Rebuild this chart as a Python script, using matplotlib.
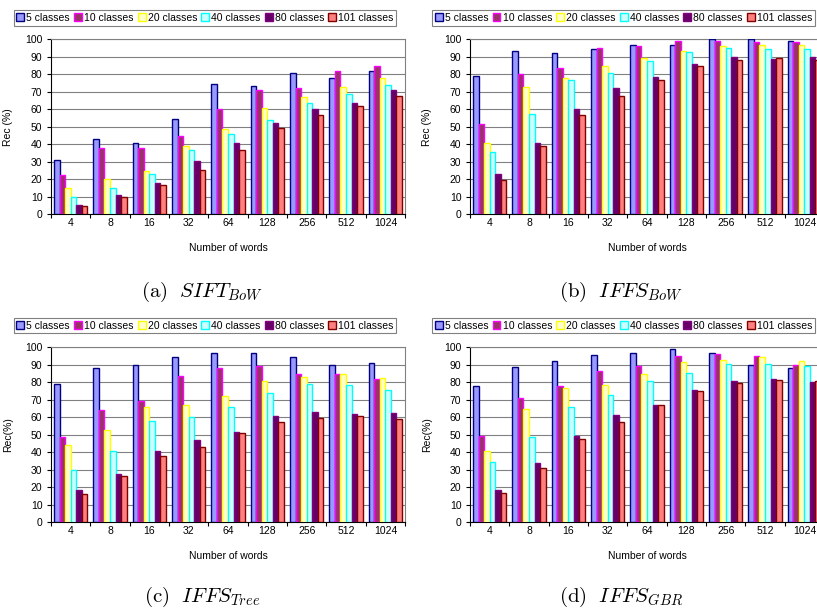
import matplotlib.pyplot as plt
from matplotlib.patches import Patch
import numpy as np

plt.rcParams['font.family'] = ['Liberation Sans', 'DejaVu Sans']
plt.rcParams['mathtext.fontset'] = 'cm'

words = ["4", "8", "16", "32", "64", "128", "256", "512", "1024"]
classes = ["5 classes", "10 classes", "20 classes", "40 classes", "80 classes", "101 classes"]

# Rec (%) per numero di classi (righe) e numero di parole (colonne)
sift_bow = [
    [31, 43, 41, 54.5, 74.5, 73.5, 81, 78, 82],
    [22.5, 38, 38, 45, 60, 71, 72, 82, 85],
    [15, 20, 25, 39, 49, 60.5, 67, 73, 78],
    [10, 15, 23, 37, 46, 54, 63.5, 69, 74],
    [5.5, 11, 18, 30.5, 40.5, 52, 60, 63.5, 71],
    [4.5, 10, 16.5, 25.5, 37, 49.5, 56.5, 62, 67.5],
]
iffs_bow = [
    [79, 93.5, 92, 94.5, 96.5, 96.5, 100, 100, 99],
    [51.5, 80, 83.5, 95, 96, 99, 99, 98.5, 98.5],
    [41, 73, 78, 85, 89.5, 93.5, 96, 96.5, 97],
    [35.5, 57.5, 76.5, 81, 87.5, 93, 95, 94.5, 94.5],
    [23, 41, 60, 72, 78.5, 86, 90, 89, 90],
    [19.5, 39, 57, 67.5, 77, 85, 88, 89.5, 88],
]
iffs_tree = [
    [79, 88, 90, 94.5, 96.5, 96.5, 94.5, 90, 91],
    [49, 64, 69.5, 83.5, 88, 89.5, 85, 84.5, 82],
    [44, 53, 66, 67, 72, 80.5, 83, 85, 82.5],
    [30, 41, 58, 60, 66, 74, 79, 78.5, 75.5],
    [18.5, 27.5, 41, 47, 51.5, 61, 63, 62, 62.5],
    [16, 26.5, 38, 43, 51, 57.5, 59.5, 60.5, 59],
]
iffs_gbr = [
    [78, 89, 92, 95.5, 96.5, 99, 96.5, 90, 88],
    [49.5, 71, 78, 86.5, 89.5, 95, 96, 95, 90],
    [41, 65, 77, 78.5, 84.5, 91.5, 92.5, 94.5, 92],
    [34.5, 49, 66, 72.5, 81, 85.5, 90.5, 90.5, 89.5],
    [18.5, 34, 49.5, 61.5, 67, 75.5, 80.5, 82, 80],
    [16.5, 31, 47.5, 57.5, 67, 75, 79.5, 81.5, 80.5],
]

fills = ['#9999FF', '#993366', '#FFFFCC', '#CCFFFF', '#660066', '#FF8080']
edges = ['#000080', '#FF00FF', '#FFFF00', '#00FFFF', '#800080', '#800000']

W, H = 817, 608
fig = plt.figure(figsize=(W / 100, H / 100), dpi=100)


def pannello(x0, y_top, dati, ylabel, legend_x, legend_y, caption, cap_x, cap_y):
    # coordinate in pixel, origine in alto a sinistra
    ax = fig.add_axes([x0 / W, 1 - (y_top + 175) / H, 354 / W, 175 / H])
    x = np.arange(len(words))
    w = 0.14
    for j in range(len(classes)):
        ax.bar(x + (j - 2.5) * w, dati[j], width=w, color=fills[j],
               edgecolor=edges[j], linewidth=1.0, zorder=3)
    ax.set_xlim(-0.5, len(words) - 0.5)
    ax.set_ylim(0, 100)
    ax.set_yticks(range(0, 101, 10))
    ax.yaxis.grid(True, color='#808080', linewidth=0.8, zorder=0)
    ax.set_xticks(x)
    ax.set_xticklabels(words)
    ax.set_xticks(np.arange(-0.5, len(words)), minor=True)
    ax.tick_params(axis='x', which='major', length=0, pad=3, labelsize=7.5)
    ax.tick_params(axis='x', which='minor', length=3, width=0.8, direction='out')
    ax.tick_params(axis='y', length=3.2, width=0.8, pad=3, labelsize=7.5)
    for s in ['top', 'right']:
        ax.spines[s].set_color('#808080')
        ax.spines[s].set_linewidth(0.8)
    for s in ['left', 'bottom']:
        ax.spines[s].set_linewidth(0.8)
    ax.set_ylabel(ylabel, fontsize=7.5)
    ax.yaxis.set_label_coords(-0.106, 0.5)
    ax.set_xlabel("Number of words", fontsize=7.5)
    ax.xaxis.set_label_coords(0.5, -0.195)
    ax.xaxis.label.set_va('center')

    handles = [Patch(facecolor=fills[j], edgecolor=edges[j], linewidth=1.0)
               for j in range(len(classes))]
    leg = fig.legend(handles, classes, loc='center', ncol=6, fontsize=7.5,
                     bbox_to_anchor=(legend_x / W, 1 - legend_y / H),
                     frameon=True, fancybox=False, framealpha=1,
                     edgecolor='#808080', handlelength=0.75, handleheight=0.75,
                     handletextpad=0.2, columnspacing=0.4, borderpad=0.25,
                     borderaxespad=0)
    leg.get_frame().set_linewidth(0.8)

    # didascalia sotto il pannello
    fig.text(cap_x / W, 1 - cap_y / H, caption, fontsize=15,
             ha='center', va='baseline')
    return ax


pannello(51, 39.3, sift_bow, "Rec (%)", 205, 17.9,
         r"$\mathrm{(a)}\ \ SIFT_{BoW}$", 202, 297)
pannello(470, 39.3, iffs_bow, "Rec (%)", 623.5, 17.9,
         r"$\mathrm{(b)}\ \ IFFS_{BoW}$", 621, 297)
pannello(51, 347.3, iffs_tree, "Rec(%)", 205, 325.8,
         r"$\mathrm{(c)}\ \ IFFS_{Tree}$", 202, 602)
pannello(470, 347.3, iffs_gbr, "Rec(%)", 623.5, 325.8,
         r"$\mathrm{(d)}\ \ IFFS_{GBR}$", 621, 602)

fig.savefig("out.png", dpi=100)
